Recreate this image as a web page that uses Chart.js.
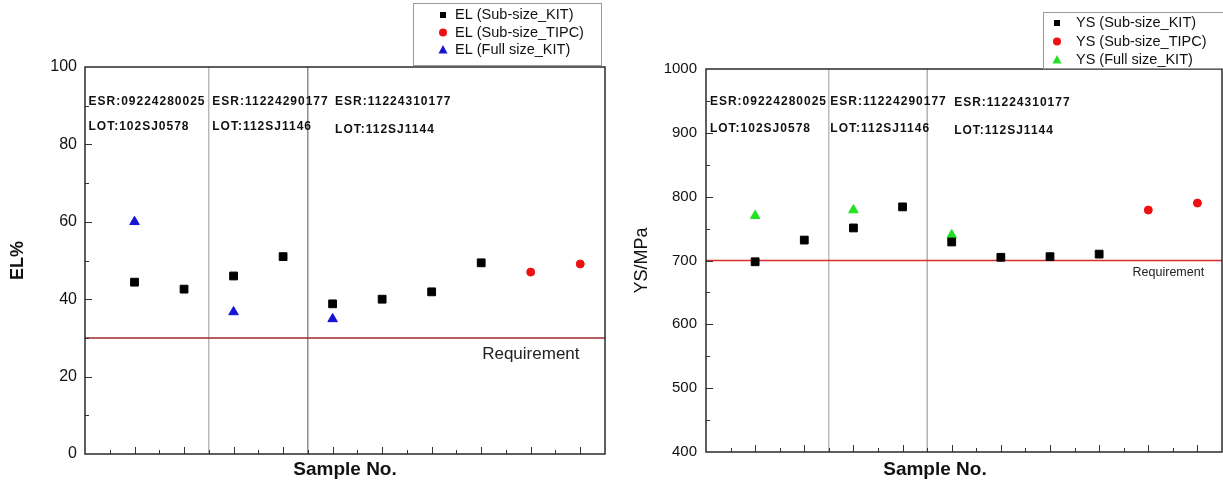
<!DOCTYPE html>
<html>
<head>
<meta charset="utf-8">
<script src="https://cdn.jsdelivr.net/npm/chart.js@4.4.1/dist/chart.umd.min.js"></script>
<style>
html, body { margin: 0; padding: 0; background: #fff; }
#wrap { position: relative; width: 1223px; height: 484px; }
#left { position: absolute; left: 0; top: 0; }
#right { position: absolute; left: 615px; top: 0; }
</style>
</head>
<body>
<div id="wrap">
  <canvas id="left" width="615" height="484"></canvas>
  <canvas id="right" width="608" height="484"></canvas>
</div>
<script>
// sample numbers on the x axis
const kitSamples = [1, 2, 3, 4, 5, 6, 7, 8];
const tipcSamples = [9, 10];
const fullSamples = [1, 3, 5];

// elongation, %
const elKit = [44.4, 42.6, 46.0, 51.0, 38.8, 40.0, 41.9, 49.4];
const elTipc = [47.0, 49.1];
const elFull = [60.0, 36.7, 34.9];
const elRequirement = 30;

// yield strength, MPa
const ysKit = [698, 732, 751, 784, 729, 705, 706, 710];
const ysTipc = [779, 790];
const ysFull = [770, 779, 740];
const ysRequirement = 700;

// lot boundaries between samples
const lotEdges = [2.5, 4.5];
const esrLabels = ['ESR:09224280025', 'ESR:11224290177', 'ESR:11224310177'];
const lotLabels = ['LOT:102SJ0578', 'LOT:112SJ1146', 'LOT:112SJ1144'];

const FONT = '"Liberation Sans", Arial, sans-serif';

function pts(xs, ys) { return xs.map((x, i) => ({x: x, y: ys[i]})); }

function mark(ctx, style, x, y, r, color) {
    ctx.fillStyle = color;
    ctx.beginPath();
    if (style === 'rect') ctx.rect(x - r, y - r, 2 * r, 2 * r);
    else if (style === 'circle') ctx.arc(x, y, r, 0, Math.PI * 2);
    else { ctx.moveTo(x, y - r * 1.1); ctx.lineTo(x + r, y + r * 0.75); ctx.lineTo(x - r, y + r * 0.75); ctx.closePath(); }
    ctx.fill();
}

// frame round the plot and inward tick marks
const framePlugin = {
    id: 'frame',
    afterDraw(chart, args, o) {
        const ctx = chart.ctx, a = chart.chartArea, xs = chart.scales.x, ys = chart.scales.y;
        ctx.save();
        ctx.strokeStyle = '#333';
        ctx.lineWidth = 1;
        ctx.beginPath();
        for (let v = 0.5; v < xs.max - 0.01; v += 0.5) {
            const px = Math.round(xs.getPixelForValue(v)) + 0.5;
            const len = (Math.abs(v % 1) < 0.01) ? 7 : 4;
            ctx.moveTo(px, a.bottom); ctx.lineTo(px, a.bottom - len);
        }
        for (let v = ys.min + o.minor; v < ys.max - 0.01; v += o.minor) {
            const py = Math.round(ys.getPixelForValue(v)) + 0.5;
            const len = (Math.abs((v - ys.min) % o.major) < 0.01) ? 7 : 4;
            ctx.moveTo(a.left, py); ctx.lineTo(a.left + len, py);
        }
        ctx.stroke();
        ctx.lineWidth = 1.5;
        ctx.strokeStyle = '#2a2a2a';
        ctx.strokeRect(a.left, a.top, a.width, a.height);
        ctx.restore();
    }
};

// ESR / LOT notes and the requirement label
const notesPlugin = {
    id: 'notes',
    afterDatasetsDraw(chart, args, o) {
        const ctx = chart.ctx, xs = chart.scales.x, ys = chart.scales.y;
        ctx.save();
        ctx.fillStyle = '#111';
        ctx.textBaseline = 'middle';
        ctx.textAlign = 'left';
        ctx.font = 'bold 12px ' + FONT;
        ctx.letterSpacing = '1px';
        esrLabels.forEach((t, i) => {
            ctx.fillText(t, xs.getPixelForValue(o.noteX[i]), ys.getPixelForValue(o.esrY[i]));
            ctx.fillText(lotLabels[i], xs.getPixelForValue(o.noteX[i]), ys.getPixelForValue(o.lotY[i]));
        });
        ctx.letterSpacing = '0px';
        ctx.font = o.reqFont + ' ' + FONT;
        ctx.fillStyle = '#222';
        ctx.fillText('Requirement', xs.getPixelForValue(o.reqX), ys.getPixelForValue(o.reqY));
        ctx.restore();
    }
};

// boxed legend overlapping the top right corner
const boxLegendPlugin = {
    id: 'boxLegend',
    afterDraw(chart, args, o) {
        const ctx = chart.ctx;
        ctx.save();
        ctx.fillStyle = '#fff';
        ctx.fillRect(o.x, o.y, o.w, o.h);
        ctx.strokeStyle = '#9a9a9a';
        ctx.lineWidth = 1;
        ctx.strokeRect(o.x + 0.5, o.y + 0.5, o.w, o.h);
        ctx.font = '14.5px ' + FONT;
        ctx.textBaseline = 'middle';
        ctx.textAlign = 'left';
        const items = chart.data.datasets.filter(d => d.inLegend);
        items.forEach((d, i) => {
            const y = o.rowY + i * o.rowGap;
            const r = d.pointStyle === 'rect' ? 3 : (d.pointStyle === 'circle' ? 4 : 4.5);
            mark(ctx, d.pointStyle, o.markX, y, r, d.backgroundColor);
            ctx.fillStyle = '#111';
            ctx.fillText(d.label, o.textX, y);
        });
        ctx.restore();
    }
};

function makeChart(id, cfg) {
    const datasets = [
        {label: cfg.name + ' (Sub-size_KIT)', inLegend: true, data: pts(kitSamples, cfg.kit),
         pointStyle: 'rect', pointRadius: 5.5, backgroundColor: '#000', borderColor: '#000', order: 0},
        {label: cfg.name + ' (Sub-size_TIPC)', inLegend: true, data: pts(tipcSamples, cfg.tipc),
         pointStyle: 'circle', pointRadius: 4, backgroundColor: '#ee1111', borderColor: '#ee1111', order: 0},
        {label: cfg.name + ' (Full size_KIT)', inLegend: true, data: pts(fullSamples, cfg.full),
         pointStyle: 'triangle', pointRadius: 5.5, backgroundColor: cfg.fullColor, borderColor: cfg.fullColor, order: 0},
        {data: [{x: 0, y: cfg.req}, {x: 10.5, y: cfg.req}], showLine: true, pointRadius: 0,
         borderColor: cfg.reqColor, borderWidth: 1.5, order: 5},
    ];
    lotEdges.forEach((e, i) => {
        datasets.push({data: [{x: e, y: cfg.yMin}, {x: e, y: cfg.yMax}], showLine: true, pointRadius: 0,
            borderColor: cfg.sepColors[i], borderWidth: 1, order: 6});
    });

    return new Chart(document.getElementById(id), {
        type: 'scatter',
        data: {datasets: datasets},
        options: {
            responsive: false,
            animation: false,
            layout: {autoPadding: false, padding: {left: 0, top: cfg.top, right: cfg.right, bottom: 0}},
            scales: {
                x: {
                    min: 0, max: 10.5,
                    grid: {display: false, drawTicks: false},
                    border: {display: false},
                    ticks: {display: false},
                    title: {display: true, text: cfg.xTitle, color: '#111',
                        font: {family: FONT, size: 19, weight: 'bold'}, padding: {top: 0, bottom: 3}},
                    afterFit(s) { s.height = cfg.xHeight; }
                },
                y: {
                    min: cfg.yMin, max: cfg.yMax,
                    grid: {display: false, drawTicks: false},
                    border: {display: false},
                    ticks: {stepSize: cfg.major, padding: cfg.tickPad, color: '#111',
                        font: {family: FONT, size: cfg.tickSize},
                        callback: v => String(v)},
                    title: {display: true, text: cfg.yTitle, color: '#111',
                        font: {family: FONT, size: 18, weight: cfg.yTitleWeight}, padding: {top: cfg.titlePad, bottom: 0}},
                    afterFit(s) { s.width = cfg.yWidth; }
                }
            },
            plugins: {
                legend: {display: false},
                tooltip: {enabled: false},
                frame: {minor: cfg.minor, major: cfg.major},
                notes: cfg.notes,
                boxLegend: cfg.legend
            }
        },
        plugins: [framePlugin, notesPlugin, boxLegendPlugin]
    });
}

makeChart('left', {
    name: 'EL', kit: elKit, tipc: elTipc, full: elFull, fullColor: '#1414d2',
    req: elRequirement, reqColor: '#9e2a2e', sepColors: ['#9a9a9a', '#555'],
    yMin: 0, yMax: 100, major: 20, minor: 10, yTitle: 'EL%', yTitleWeight: 'bold',
    xTitle: 'Sample No.',
    top: 67, right: 10, xHeight: 30, yWidth: 85, tickPad: 8, tickSize: 16, titlePad: 7,
    notes: {noteX: [0.07, 2.57, 5.05], esrY: [91, 91, 91], lotY: [84.5, 84.5, 83.7],
        reqX: 8.02, reqY: 25.8, reqFont: '17px'},
    legend: {x: 413, y: 3, w: 188, h: 62, markX: 443, textX: 455, rowY: 15, rowGap: 17.5}
});

makeChart('right', {
    name: 'YS', kit: ysKit, tipc: ysTipc, full: ysFull, fullColor: '#22e022',
    req: ysRequirement, reqColor: '#dd2b2b', sepColors: ['#9a9a9a', '#8a8a8a'],
    yMin: 400, yMax: 1000, major: 100, minor: 50, yTitle: 'YS/MPa', yTitleWeight: 'normal',
    // trailing spaces pull the centred title left, as in the original
    xTitle: 'Sample No.' + '\u00a0'.repeat(11),
    top: 69, right: 1, xHeight: 32, yWidth: 91, tickPad: 9, tickSize: 15, titlePad: 16,
    notes: {noteX: [0.08, 2.53, 5.05], esrY: [948.5, 948.5, 947], lotY: [906, 906, 903],
        reqX: 8.68, reqY: 680.5, reqFont: '12.5px'},
    legend: {x: 428, y: 12, w: 180, h: 56, markX: 442, textX: 461, rowY: 23, rowGap: 18.5}
});
</script>
</body>
</html>
